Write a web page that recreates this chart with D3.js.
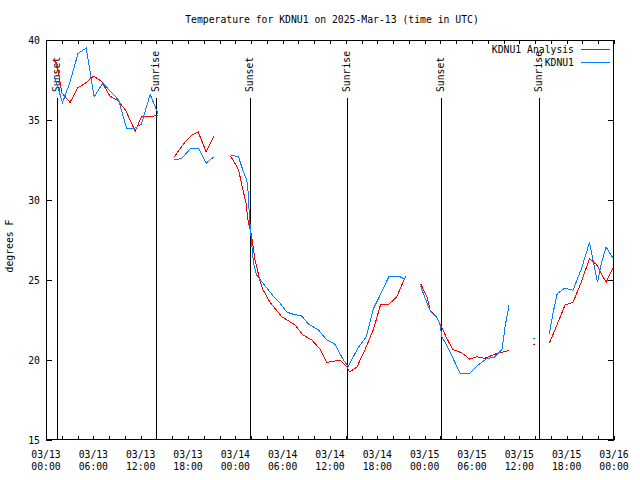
<!DOCTYPE html>
<html><head><meta charset="utf-8">
<script src="https://cdn.jsdelivr.net/npm/d3@7"></script>
<style>
body{margin:0;background:#fff}
text{font-family:"DejaVu Sans Mono","Liberation Mono",monospace;font-size:9.75px;fill:#000}
</style>
</head><body>
<svg id="c" width="640" height="480"></svg>
<script>
// ---------- data ----------
const titleText = "Temperature for KDNU1 on 2025-Mar-13 (time in UTC)";
const yLabel = "degrees F";
const seriesNames = ["KDNU1 Analysis", "KDNU1"];
const seriesColors = ["#ff0000", "#0080ff"];
const yTicks = [15, 20, 25, 30, 35, 40];
const xTickHours = d3.range(0, 73, 2);
const xLabelHours = d3.range(0, 73, 6);
const eventNames = ["Sunset", "Sunrise", "Sunset", "Sunrise", "Sunset", "Sunrise"];
const eventHours = [1.43, 13.94, 25.86, 38.12, 50.07, 62.49];

// hours since 2025-03-13 00:00 UTC ; null = gap
const analysisHours = [1.05,1.4,2.0,3.05,4.0,5.0,6.05,7.05,8.1,9.15,10.1,11.3,12.1,13.2,14.2,
  15.2,
  16.25,17.6,18.5,19.3,20.3,21.3,
  22.3,
  23.4,24.4,24.8,25.35,25.6,26.05,26.5,27.1,27.5,28.4,29.9,31.55,32.6,33.7,34.7,35.6,37.3,38.1,38.45,39.4,40.4,41.5,42.4,43.4,44.45,45.6,
  46.5,
  47.5,48.3,48.7,49.5,50.2,50.8,51.6,52.7,53.7,54.6,55.6,57.1,58.7,
  60.2,
  61.8,
  62.8,
  63.8,64.7,65.8,66.8,67.8,68.9,69.8,71.0,71.9];
const analysisTemps = [38.75,38.5,36.7,36.1,37.0,37.3,37.75,37.4,36.5,36.2,35.6,34.3,35.2,35.2,35.3,
  null,
  32.7,33.6,34.05,34.25,33.0,34.0,
  null,
  32.75,31.9,31.0,29.8,28.75,27.8,26.25,25.0,24.4,23.6,22.7,22.2,21.55,21.25,20.7,19.85,20.0,19.6,19.25,19.55,20.6,21.9,23.45,23.45,23.95,25.25,
  null,
  24.75,23.95,23.1,22.7,22.0,21.35,20.65,20.45,20.05,20.2,20.1,20.4,20.6,
  null,
  21.0,
  null,
  21.05,22.1,23.45,23.6,24.8,26.35,25.95,24.85,25.8];

const obsHours = [1.05,2.1,3.0,4.05,5.1,6.1,7.2,9.2,10.2,11.3,12.1,13.2,14.2,
  15.2,
  16.25,17.2,18.3,19.4,20.3,21.3,
  22.3,
  23.4,24.4,25.0,25.45,25.65,25.77,26.05,26.3,26.7,27.5,28.8,29.6,30.5,31.4,32.4,33.25,34.5,35.6,36.6,37.7,38.3,39.6,40.6,41.5,42.3,43.5,44.7,45.5,
  46.5,
  47.5,48.5,48.9,49.5,49.9,50.2,50.8,51.6,52.5,53.7,54.8,55.9,56.8,57.8,58.2,58.7,
  60.2,
  61.8,
  62.8,
  63.8,64.3,64.8,65.8,66.8,67.9,68.9,69.9,70.4,71.0,71.9];
const obsTemps = [37.7,36.1,37.3,39.15,39.5,36.45,37.3,36.25,34.5,34.5,34.75,36.6,35.4,
  null,
  32.5,32.6,33.2,33.2,32.3,32.7,
  null,
  32.8,32.7,31.8,31.25,30.4,29.0,27.4,26.05,25.3,24.8,24.0,23.6,23.0,22.85,22.75,22.25,21.9,21.25,21.0,20.0,19.6,20.8,21.45,23.2,24.0,25.25,25.25,25.05,
  null,
  24.6,23.3,22.95,22.7,22.3,21.45,20.9,20.1,19.15,19.15,19.7,20.1,20.15,20.65,22.1,23.45,
  null,
  21.4,
  null,
  21.65,23.0,24.15,24.5,24.35,25.75,27.35,24.85,26.05,27.05,26.35];

// ---------- chart ----------
const svg = d3.select("#c");
const L = 46, R = 614, T = 40, B = 440;
const t0 = Date.UTC(2025, 2, 13, 0, 0);
const hr = h => new Date(t0 + h * 3600e3);
const x = d3.scaleUtc().domain([hr(0), hr(72)]).range([L, R]);
const y = d3.scaleLinear().domain([15, 40]).range([B, T]);

svg.append("rect").attr("width", 640).attr("height", 480).attr("fill", "#fff");

// title
svg.append("text").attr("x", 332).attr("y", 23).attr("text-anchor", "middle").text(titleText);
// y label
svg.append("text").attr("transform", "translate(13,246) rotate(-90)")
  .attr("text-anchor", "middle").text(yLabel);

// axes ticks (inward)
const xTickVals = xTickHours.map(hr);
const styleAxis = g => { g.select(".domain").remove(); g.selectAll("line").attr("stroke", "#000").attr("shape-rendering", "crispEdges"); };
svg.append("g").attr("transform", `translate(0,${B})`)
  .call(d3.axisBottom(x).tickValues(xTickVals).tickSizeInner(-4).tickSizeOuter(0).tickFormat(""))
  .call(styleAxis);
svg.append("g").attr("transform", `translate(0,${T})`)
  .call(d3.axisTop(x).tickValues(xTickVals).tickSizeInner(-4).tickSizeOuter(0).tickFormat(""))
  .call(styleAxis);
svg.append("g").attr("transform", `translate(${L},0)`)
  .call(d3.axisLeft(y).tickValues(yTicks).tickSizeInner(-6).tickSizeOuter(0).tickFormat(""))
  .call(styleAxis);
svg.append("g").attr("transform", `translate(${R},0)`)
  .call(d3.axisRight(y).tickValues(yTicks).tickSizeInner(-6).tickSizeOuter(0).tickFormat(""))
  .call(styleAxis);

// x tick labels
const fDay = d3.utcFormat("%m/%d"), fTime = d3.utcFormat("%H:%M");
const xl = svg.append("g");
xLabelHours.forEach(h => {
  const d = hr(h);
  const t = xl.append("text").attr("text-anchor", "middle");
  t.append("tspan").attr("x", x(d)).attr("y", 458).text(fDay(d));
  t.append("tspan").attr("x", x(d)).attr("y", 470).text(fTime(d));
});
// y tick labels
yTicks.forEach(v => {
  svg.append("text").attr("x", 40).attr("y", y(v) + 4).attr("text-anchor", "end").text(v);
});

// sunrise / sunset lines
eventHours.forEach((h, i) => {
  const xx = Math.round(x(hr(h))) + 0.5;
  svg.append("line").attr("x1", xx).attr("x2", xx).attr("y1", 98).attr("y2", B)
    .attr("stroke", "#000").attr("stroke-width", 1);
  svg.append("text").attr("transform", `translate(${xx + 2},92) rotate(-90)`)
    .attr("text-anchor", "start").text(eventNames[i]);
});

// series
function drawSeries(hours, temps, color) {
  const pts = hours.map((h, i) => ({ d: hr(h), v: temps[i] }));
  const line = d3.line().defined(p => p.v !== null).x(p => x(p.d)).y(p => y(p.v));
  svg.append("path").datum(pts).attr("d", line).attr("fill", "none")
    .attr("stroke", color).attr("stroke-width", 1).attr("shape-rendering", "crispEdges");
  pts.forEach((p, i) => {
    if (p.v === null) return;
    const prev = pts[i - 1], next = pts[i + 1];
    if ((!prev || prev.v === null) && (!next || next.v === null)) {
      svg.append("rect").attr("x", Math.round(x(p.d)) - 1).attr("y", Math.round(y(p.v)))
        .attr("width", 2).attr("height", 1).attr("fill", color);
    }
  });
}
drawSeries(analysisHours, analysisTemps, seriesColors[0]);
drawSeries(obsHours, obsTemps, seriesColors[1]);

// frame
svg.append("rect").attr("x", L + 0.5).attr("y", T + 0.5).attr("width", R - L - 1).attr("height", B - T - 1)
  .attr("fill", "none").attr("stroke", "#000");

// legend
const lg = svg.append("g");
seriesNames.forEach((n, i) => {
  const yy = 49 + i * 13;
  lg.append("text").attr("x", 574).attr("y", yy + 4).attr("text-anchor", "end").text(n);
  lg.append("line").attr("x1", 581).attr("x2", 610).attr("y1", yy + 0.5).attr("y2", yy + 0.5)
    .attr("stroke", seriesColors[i]).attr("stroke-width", 1);
});
</script>
</body></html>
